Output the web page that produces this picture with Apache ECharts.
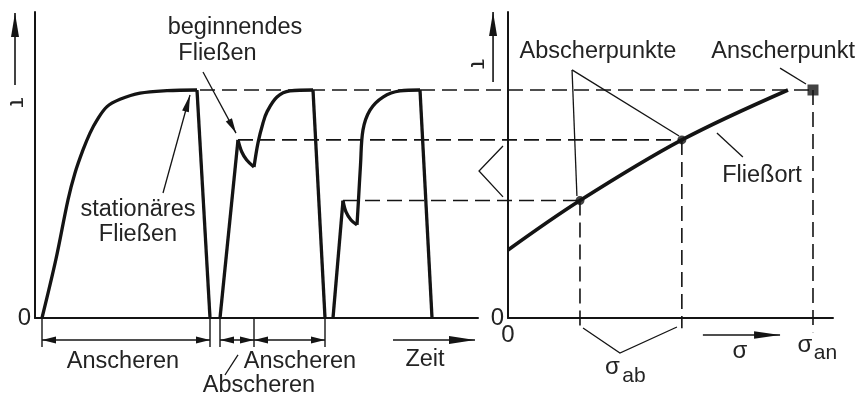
<!DOCTYPE html>
<html>
<head>
<meta charset="utf-8">
<script src="https://cdn.jsdelivr.net/npm/echarts@6/dist/echarts.min.js"></script>
<style>
  html, body { margin: 0; padding: 0; background: #fff; }
  #chart { width: 859px; height: 396px; }
</style>
</head>
<body>
<div id="chart"></div>
<script>
// Shear stress levels, normalised to the steady-state value
const tauSteady = 1.0;
const tauYieldA = 0.781;   // incipient flow, first shear point
const tauYieldB = 0.515;   // incipient flow, second shear point

// τ over time for the three shear phases, [t, τ]
const run1Rise   = [[0.7, 0], [2.1, 0.259], [3.3, 0.518], [4.0, 0.636], [4.8, 0.737], [5.5, 0.811],
                    [6.2, 0.868], [7.2, 0.927], [8.5, 0.959], [10.5, 0.986], [13.2, 0.997], [16.2, tauSteady]];
const run1Unload = [[16.2, tauSteady], [17.5, 0]];
const run2Load   = [[18.5, 0], [20.3, tauYieldA]];
const run2Drop   = [[20.3, tauYieldA], [20.67, 0.729], [21.17, 0.693], [21.9, 0.662]];
const run2Rise   = [[21.9, 0.662], [22.3, 0.768], [22.8, 0.855], [23.2, 0.904], [24.2, 0.969],
                    [25.5, 0.996], [27.8, tauSteady]];
const run2Unload = [[27.8, tauSteady], [29.0, 0]];
const run3Load   = [[29.8, 0], [30.8, tauYieldB]];
const run3Drop   = [[30.8, tauYieldB], [31.1, 0.465], [31.6, 0.430], [32.2, 0.408]];
const run3Rise   = [[32.2, 0.408], [32.35, 0.518], [32.55, 0.671], [32.8, 0.825], [33.5, 0.912],
                    [34.8, 0.969], [36.5, 0.996], [38.5, tauSteady]];
const run3Unload = [[38.5, tauSteady], [39.7, 0]];

// σ–τ plane: shear points, preshear point and yield locus
const sigmaShear = [0.236, 0.570];
const tauShear   = [tauYieldB, tauYieldA];
const sigmaPre   = 1.0;
const tauPre     = tauSteady;
const yieldLocus = [[0, 0.298], [sigmaShear[0], tauShear[0]], [sigmaShear[1], tauShear[1]], [0.918, tauSteady]];

// where the dashed level lines leave the time plot
const levelStartT = [16.5, 20.3, 30.8];

// axis ranges
const tMax = 44.3, sigmaMax = 1.0656, tauMax = 1.342;

const ink = '#141414';
const txt = '#232323';
const FONT = '"Liberation Sans", Arial, Helvetica, sans-serif';
const DASH = [15, 7];

const chart = echarts.init(document.getElementById('chart'), null, { renderer: 'canvas' });

const axisLine = { show: true, onZero: true, lineStyle: { color: ink, width: 2 } };
const zeroOnly = v => (v === 0 ? '0' : '');

function curve(data, smooth, grid) {
  const gi = grid || 0;
  return {
    type: 'line', xAxisIndex: gi, yAxisIndex: gi, data: data,
    smooth: smooth ? 0.35 : false, showSymbol: false, symbol: 'none',
    lineStyle: { color: ink, width: 3.3 }, silent: true, z: 4, clip: false
  };
}
function dashedDrop(s, tau, bottom) {
  return {
    type: 'line', xAxisIndex: 1, yAxisIndex: 1, data: [[s, tau], [s, bottom]],
    showSymbol: false, symbol: 'none', clip: false, silent: true, z: 2,
    lineStyle: { color: ink, width: 1.6, type: DASH }
  };
}

chart.setOption({
  animation: false,
  backgroundColor: '#ffffff',
  grid: [
    { left: 35, top: 12, width: 443, height: 306 },
    { left: 508, top: 12, width: 325, height: 306 }
  ],
  xAxis: [
    { type: 'value', gridIndex: 0, min: 0, max: tMax, axisLine: axisLine,
      axisTick: { show: false }, axisLabel: { show: false }, splitLine: { show: false } },
    { type: 'value', gridIndex: 1, min: 0, max: sigmaMax, interval: 1, axisLine: axisLine,
      axisTick: { show: false }, splitLine: { show: false },
      axisLabel: { show: true, formatter: zeroOnly, color: txt, fontSize: 24, fontFamily: FONT, margin: 5 } }
  ],
  yAxis: [
    { type: 'value', gridIndex: 0, min: 0, max: tauMax, interval: 1, axisLine: axisLine,
      axisTick: { show: false }, splitLine: { show: false },
      axisLabel: { show: true, formatter: zeroOnly, color: txt, fontSize: 24, fontFamily: FONT, margin: 4 } },
    { type: 'value', gridIndex: 1, min: 0, max: tauMax, interval: 1, axisLine: axisLine,
      axisTick: { show: false }, splitLine: { show: false },
      axisLabel: { show: true, formatter: zeroOnly, color: txt, fontSize: 24, fontFamily: FONT, margin: 4 } }
  ],
  series: [
    curve(run1Rise, true), curve(run1Unload, false),
    curve(run2Load, false), curve(run2Drop, true), curve(run2Rise, true), curve(run2Unload, false),
    curve(run3Load, false), curve(run3Drop, true), curve(run3Rise, true), curve(run3Unload, false),
    Object.assign(curve(yieldLocus, true, 1), { lineStyle: { color: ink, width: 3.6 } }),
    dashedDrop(sigmaShear[0], tauShear[0], -0.045),
    dashedDrop(sigmaShear[1], tauShear[1], -0.045),
    dashedDrop(sigmaPre, tauPre, -0.062),
    {
      type: 'scatter', xAxisIndex: 1, yAxisIndex: 1, symbol: 'circle', symbolSize: 9, z: 6,
      data: sigmaShear.map((s, i) => [s, tauShear[i]]), itemStyle: { color: ink }, silent: true
    },
    {
      type: 'scatter', xAxisIndex: 1, yAxisIndex: 1, symbol: 'rect', symbolSize: 11, z: 6,
      data: [[sigmaPre, tauPre]], itemStyle: { color: ink }, silent: true
    }
  ]
});

// ---- annotations placed through the axis scales ----
const P0 = (t, tau) => chart.convertToPixel({ xAxisIndex: 0, yAxisIndex: 0 }, [t, tau]);
const P1 = (s, tau) => chart.convertToPixel({ xAxisIndex: 1, yAxisIndex: 1 }, [s, tau]);

const g = [];
function seg(a, b, w, dash) {
  g.push({ type: 'line', silent: true, z: 10,
    shape: { x1: a[0], y1: a[1], x2: b[0], y2: b[1] },
    style: { stroke: ink, lineWidth: w, lineDash: dash || null } });
}
function poly(pts, w) {
  g.push({ type: 'polyline', silent: true, z: 10, shape: { points: pts },
    style: { stroke: ink, lineWidth: w, fill: null } });
}
function head(tip, from, len, half) {
  const dx = tip[0] - from[0], dy = tip[1] - from[1], d = Math.hypot(dx, dy);
  const ux = dx / d, uy = dy / d;
  const bx = tip[0] - ux * len, by = tip[1] - uy * len;
  g.push({ type: 'polygon', silent: true, z: 11,
    shape: { points: [tip, [bx - uy * half, by + ux * half], [bx + uy * half, by - ux * half]] },
    style: { fill: ink } });
}
function arrow(a, b, w, len, half) { seg(a, b, w); head(b, a, len, half); }
function label(p, text, size, rot) {
  g.push({ type: 'text', silent: true, z: 12, x: p[0], y: p[1], rotation: rot || 0,
    style: { text: text, fill: txt, font: size + 'px ' + FONT, align: 'center', verticalAlign: 'middle' } });
}

// dashed level lines from the time plot to the σ–τ plane
const levelTau = [tauPre, tauShear[1], tauShear[0]];
const levelSigma = [sigmaPre, sigmaShear[1], sigmaShear[0]];
levelTau.forEach((tau, i) => seg(P0(levelStartT[i], tau), P1(levelSigma[i], tau), 1.6, DASH));

// time plot: τ axis arrow and name
arrow(P0(-2.0, 1.022), P0(-2.0, 1.338), 1.6, 24, 4);
label(P0(-1.85, 0.945), 'τ', 24, -Math.PI / 2);

// time plot texts
label(P0(20.0, 1.276), 'beginnendes', 23.5);
label(P0(18.25, 1.158), 'Fließen', 23.5);
arrow(P0(16.8, 1.079), P0(20.1, 0.811), 1.3, 15, 3.5);
label(P0(10.3, 0.474), 'stationäres', 23.5);
label(P0(10.3, 0.364), 'Fließen', 23.5);
arrow(P0(12.8, 0.548), P0(15.5, 0.978), 1.3, 17, 3.5);

// dimension lines below the time axis
const dimT = [run1Rise[0][0], run1Unload[1][0], run2Load[0][0], run2Drop[run2Drop.length - 1][0], run2Unload[1][0]];
dimT.forEach(t => seg(P0(t, 0), P0(t, -0.127), 1.4));
const dimLevel = -0.0965;
[[dimT[0], dimT[1]], [dimT[2], dimT[3]], [dimT[3], dimT[4]]].forEach(([a, b]) => {
  const pa = P0(a, dimLevel), pb = P0(b, dimLevel);
  seg(pa, pb, 1.4);
  head(pa, pb, 14, 3.5);
  head(pb, pa, 14, 3.5);
});
label(P0(8.8, -0.189), 'Anscheren', 23.5);
label(P0(26.5, -0.189), 'Anscheren', 23.5);
label(P0(22.4, -0.298), 'Abscheren', 23.5);
seg(P0(19.0, -0.25), P0(20.3, -0.162), 1.3);
arrow(P0(35.8, dimLevel), P0(44.0, dimLevel), 1.6, 26, 4);
label(P0(39.0, -0.182), 'Zeit', 23.5);

// σ–τ plane: τ axis arrow and name
arrow(P1(-0.049, 1.035), P1(-0.049, 1.342), 1.6, 24, 4);
label(P1(-0.1, 1.114), 'τ', 24, -Math.PI / 2);

// shear point and preshear point callouts
label(P1(0.295, 1.167), 'Abscherpunkte', 23.5);
const apex = P1(0.210, 1.088);
seg(apex, P1(0.226, 0.535), 1.3);
seg(apex, P1(0.561, 0.798), 1.3);
label(P1(0.902, 1.167), 'Anscherpunkt', 23.5);
seg(P1(0.892, 1.096), P1(0.977, 1.026), 1.3);
label(P1(0.833, 0.627), 'Fließort', 23.5);
seg(P1(0.685, 0.811), P1(0.770, 0.706), 1.3);
poly([P1(-0.0164, 0.754), P1(-0.095, 0.645), P1(-0.0164, 0.531)], 1.3);

// σ axis arrow, name and marked stresses
arrow(P1(0.639, -0.0746), P1(0.892, -0.0746), 1.6, 26, 3.8);
label(P1(0.7607, -0.1447), 'σ', 24);
label(P1(0.9738, -0.1184), 'σ', 24);
label(P1(1.041, -0.1535), 'an', 21);
poly([P1(0.246, -0.044), P1(0.367, -0.154), P1(0.554, -0.0395)], 1.3);
label(P1(0.3426, -0.2149), 'σ', 24);
label(P1(0.4131, -0.2544), 'ab', 21);

chart.setOption({ graphic: { elements: g } });
</script>
</body>
</html>
